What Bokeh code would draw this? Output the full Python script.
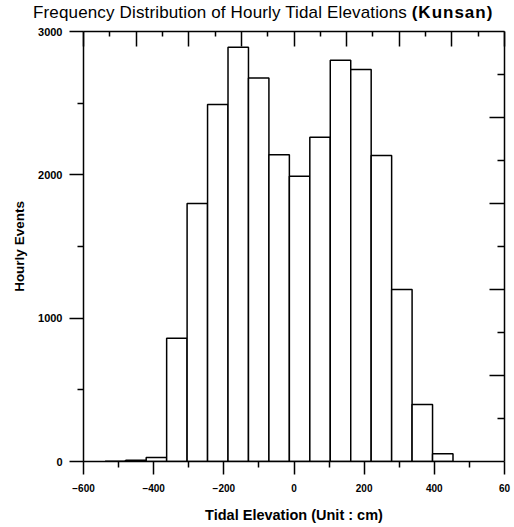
from bokeh.plotting import figure
from bokeh.models import LinearAxis, FixedTicker, Range1d, Div
from bokeh.layouts import column
from bokeh.embed import file_html
from bokeh.resources import INLINE

# ---- data ----
bin_edges = [-537.9, -479.6, -421.3, -363.0, -304.7, -246.4, -188.1, -129.8,
             -71.5, -13.2, 45.1, 103.4, 161.7, 220.0, 278.3, 336.6, 394.9, 453.2]
counts = [2, 8, 28, 860, 1800, 2490, 2890, 2675, 2140, 1990, 2262, 2800,
          2735, 2135, 1200, 398, 54]

x_ticks = [-600, -400, -200, 0, 200, 400, 600]
x_minor = [-500, -300, -100, 100, 300, 500]
x_labels = {600: "60"}
y_ticks = [0, 1000, 2000, 3000]
y_minor = [500, 1500, 2500]
top_ticks = [-600, -450, -300, -150, 0, 150, 300, 450, 600]
top_minor = [-525, -375, -225, -75, 75, 225, 375, 525]
right_ticks = [600, 1200, 1800, 2400]
right_minor = [300, 900, 1500, 2100, 2700]

title_main = "Frequency Distribution of Hourly Tidal Elevations"
title_site = "(Kunsan)"
x_title = "Tidal Elevation (Unit : cm)"
y_title = "Hourly Events"

FONT = "Liberation Sans"

title = Div(
    text=(f'<span style="letter-spacing:0.15px">{title_main}</span> '
          f'<b style="letter-spacing:1px">{title_site}</b>'),
    width=514, height=22, margin=(0, 0, 0, 0),
    styles={"font-family": FONT, "font-size": "17px", "line-height": "20px",
            "padding-top": "3px", "padding-left": "33px",
            "white-space": "nowrap", "color": "black"})

p = figure(width=514, height=503, output_backend="svg", toolbar_location=None,
           x_range=Range1d(-600, 600), y_range=Range1d(0, 3000),
           x_axis_location=None, y_axis_location=None,
           min_border_left=83, min_border_right=10,
           min_border_top=9, min_border_bottom=64, margin=(0, 0, 0, 0))
p.grid.visible = False
p.outline_line_color = None
p.background_fill_color = "white"
p.border_fill_color = "white"

p.quad(left=bin_edges[:-1], right=bin_edges[1:], bottom=0, top=counts,
       fill_color="white", line_color="black", line_width=1.5)

def style(ax):
    ax.axis_line_color = "black"
    ax.axis_line_width = 1.5
    ax.major_tick_line_color = "black"
    ax.major_tick_line_width = 1.5
    ax.minor_tick_line_color = "black"
    ax.minor_tick_line_width = 1.5
    ax.major_label_text_font = FONT
    ax.major_label_text_font_style = "bold"
    ax.major_label_text_color = "black"
    ax.axis_label_text_font = FONT
    ax.axis_label_text_font_style = "bold"
    ax.axis_label_text_color = "black"

# bottom axis
xb = LinearAxis(ticker=FixedTicker(ticks=x_ticks, minor_ticks=x_minor),
                axis_label=x_title)
style(xb)
xb.major_label_overrides = x_labels
xb.major_tick_out = 13
xb.major_tick_in = 0
xb.minor_tick_out = 6
xb.minor_tick_in = 0
xb.major_label_text_font_size = "10px"
xb.major_label_standoff = 9
xb.axis_label_text_font_size = "14.5px"
xb.axis_label_standoff = 12
p.add_layout(xb, "below")

# left axis
yl = LinearAxis(ticker=FixedTicker(ticks=y_ticks, minor_ticks=y_minor),
                axis_label=y_title)
style(yl)
yl.major_tick_out = 14
yl.major_tick_in = 0
yl.minor_tick_out = 6
yl.minor_tick_in = 0
yl.major_label_text_font_size = "11px"
yl.major_label_standoff = 7
yl.axis_label_text_font_size = "13.5px"
yl.axis_label_standoff = 8
p.add_layout(yl, "left")

# top axis (ticks only)
xt = LinearAxis(ticker=FixedTicker(ticks=top_ticks, minor_ticks=top_minor))
style(xt)
xt.major_tick_out = 0
xt.major_tick_in = 15
xt.minor_tick_out = 0
xt.minor_tick_in = 5
xt.major_label_overrides = {t: "" for t in top_ticks}
xt.major_label_standoff = 0
p.add_layout(xt, "above")

# right axis (ticks only)
yr = LinearAxis(ticker=FixedTicker(ticks=right_ticks, minor_ticks=right_minor))
style(yr)
yr.major_tick_out = 0
yr.major_tick_in = 15
yr.minor_tick_out = 0
yr.minor_tick_in = 7
yr.major_label_overrides = {t: "" for t in right_ticks}
yr.major_label_standoff = 0
p.add_layout(yr, "right")

layout = column(title, p, spacing=0, margin=(0, 0, 0, 0))
open("out.html", "w").write(file_html(layout, INLINE))
